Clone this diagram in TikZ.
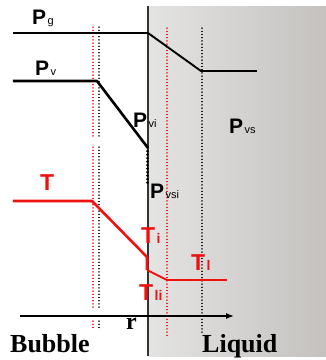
\documentclass[tikz,border=0pt]{standalone}
\usepackage{fontspec}
\setmainfont{Liberation Serif}
\newfontfamily\labelfont{Liberation Sans}
\usetikzlibrary{arrows.meta}
\definecolor{liqleft}{RGB}{228,228,226}
\definecolor{liqright}{RGB}{196,193,191}
\definecolor{tred}{RGB}{240,16,16}
\newcommand{\psub}[1]{\kern1.5pt{\fontsize{11}{11}\selectfont\mdseries #1}}
\newcommand{\tsub}[1]{\kern1.5pt{\fontsize{14}{14}\selectfont #1}}

\begin{document}
\begin{tikzpicture}[x=1pt,y=-1pt,>=Latex,
  plab/.style={inner sep=0pt,anchor=base west,font=\labelfont\fontsize{21}{21}\selectfont\bfseries},
  tlab/.style={plab,text=tred,font=\labelfont\fontsize{23}{23}\selectfont\bfseries},
  rlab/.style={inner sep=0pt,anchor=base west,font=\fontsize{26}{26}\selectfont\bfseries},
  pline/.style={line width=2.6pt,line join=round},
  tline/.style={pline,tred},
  redguide/.style={red,line width=1.2pt,line cap=round,dash pattern=on 0.2pt off 3pt},
  blackguide/.style={black,line width=1.2pt,line cap=round,dash pattern=on 0.2pt off 3pt}]
\useasboundingbox (0,0) rectangle (326,360);
% liquid side
\shade[left color=liqleft,right color=liqright] (148,6) rectangle (326,356);
\draw[line width=1.2pt,black!80] (148,6) -- (148,356);
% guides in the bubble
\foreach \ya/\yb in {27/138,147/310,321/328}{
  \draw[redguide] (93,\ya) -- (93,\yb);
  \draw[blackguide] (99,\ya) -- (99,\yb);
}
% guides in the liquid
\draw[redguide] (167,28) -- (167,337);
\draw[blackguide] (202,28) -- (202,333);
% pressures
\coordinate (pga) at (13,33);
\coordinate (pgi) at (148,33);
\coordinate (pgb) at (201,71);
\coordinate (pgc) at (257,71);
\draw[pline] (pga) -- (pgi);
\draw[pline,line width=1.9pt] (pgi) -- (pgb) -- (pgc);
\coordinate (pva) at (13,81);
\coordinate (pvb) at (97,81);
\coordinate (pvi) at (148,148);
\draw[pline] (pva) -- (pvb) -- (pvi);
% dots down to P_vsi
\foreach \yy in {151,154.5,...,184}
  \fill (147.5,\yy) circle (1.5pt);
% temperatures
\coordinate (ta) at (13,201);
\coordinate (tb) at (92,201);
\coordinate (ti) at (147,257);
\coordinate (tli) at (147,270);
\coordinate (tc) at (167,280);
\coordinate (td) at (227,280);
\draw[tline] (ta) -- (tb) -- (ti) -- (tli);
\draw[tline,line width=1.8pt] (tli) -- (tc) -- (td);
% r axis
\coordinate (ra) at (20,316);
\coordinate (rb) at (234,316);
\draw[->,line width=1.1pt] (ra) -- (rb);
% labels
\node[plab] (lpg) at (32,24) {P\psub{g}};
\node[plab] (lpv) at (35,75) {P\psub{v}};
\node[plab] (lpvi) at (133,127) {P\psub{vi}};
\node[plab] (lpvsi) at (150,198) {P\psub{vsi}};
\node[plab] (lpvs) at (229,133) {P\psub{vs}};
\node[tlab] (lt) at (40,190) {T};
\node[tlab] (lti) at (141,243) {T\tsub{i}};
\node[tlab] (ltl) at (191,270) {T\tsub{l}};
\node[tlab] (ltli) at (139,300) {T\tsub{li}};
\node[rlab,font=\fontsize{24}{24}\selectfont\bfseries] (lr) at (126,329) {r};
\node[rlab] (lbub) at (10,352) {Bubble};
\node[rlab] (lliq) at (202,352) {Liquid};
\end{tikzpicture}
\end{document}
